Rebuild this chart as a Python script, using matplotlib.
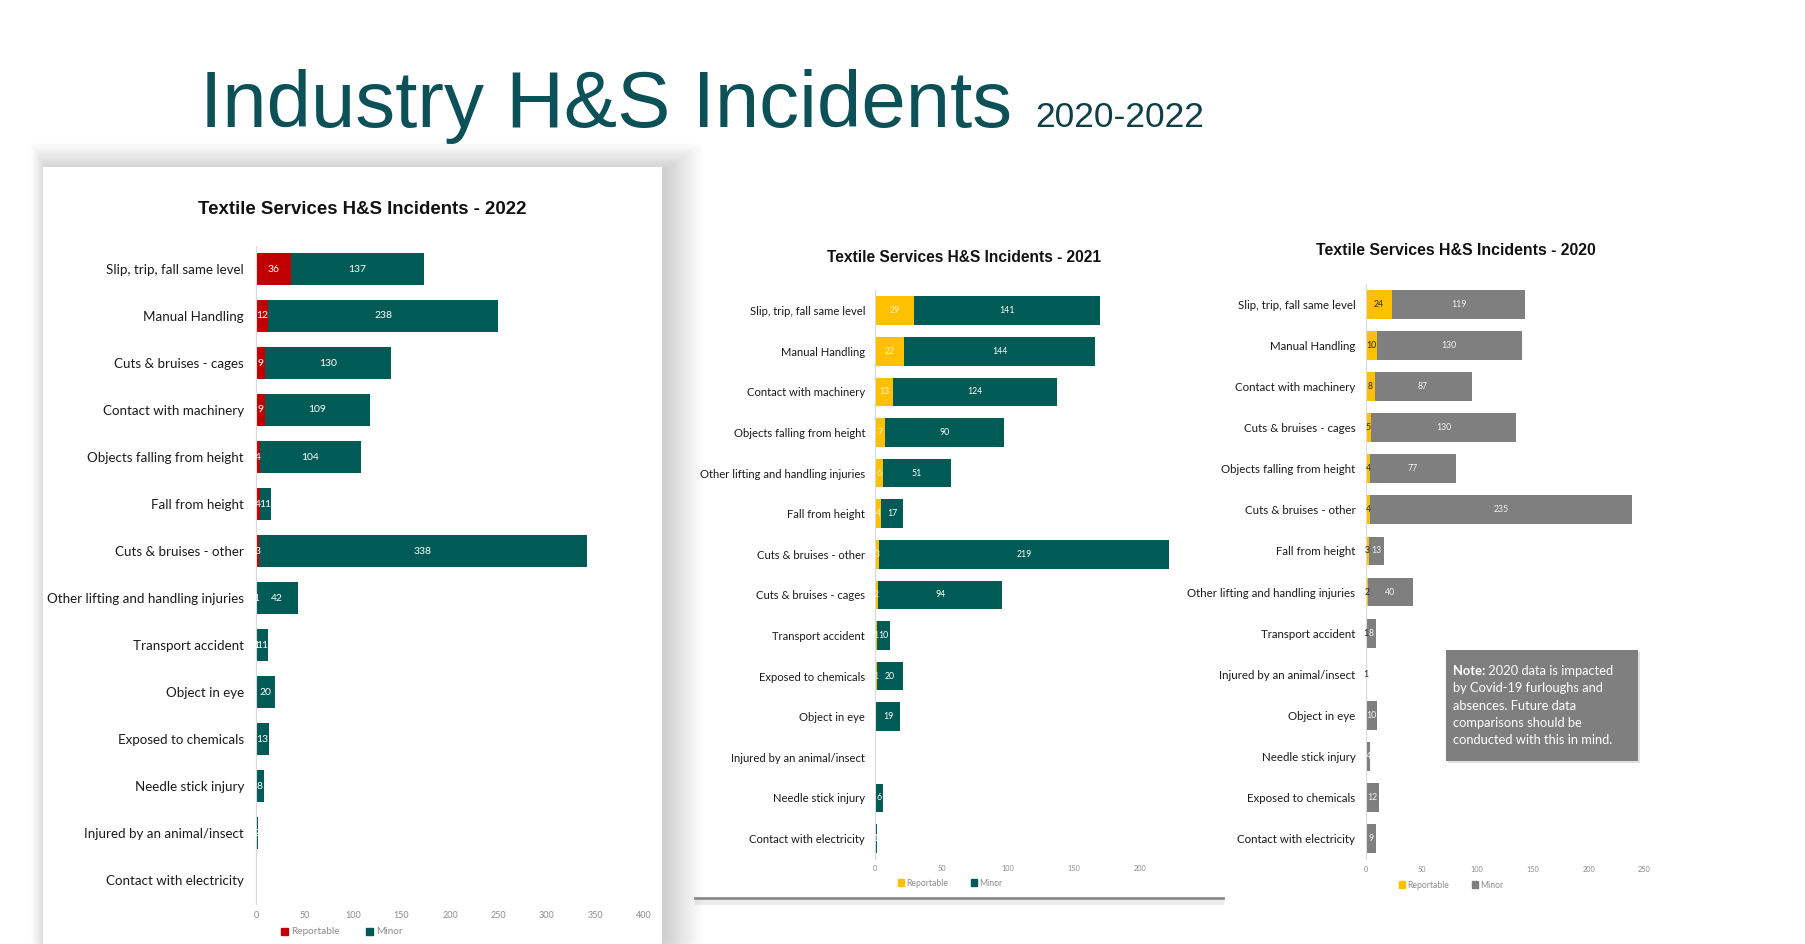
import matplotlib.pyplot as plt
from matplotlib.patches import Rectangle, Patch

plt.rcParams["font.family"] = ["Lato", "DejaVu Sans"]

W, H = 1806, 944

# ---- data ----
cats_2022 = ["Slip, trip, fall same level", "Manual Handling", "Cuts & bruises - cages",
             "Contact with machinery", "Objects falling from height", "Fall from height",
             "Cuts & bruises - other", "Other lifting and handling injuries", "Transport accident",
             "Object in eye", "Exposed to chemicals", "Needle stick injury",
             "Injured by an animal/insect", "Contact with electricity"]
rep_2022 = [36, 12, 9, 9, 4, 4, 3, 1, 1, 0, 0, 0, 0, 0]
minor_2022 = [137, 238, 130, 109, 104, 11, 338, 42, 11, 20, 13, 8, 2, 0]

cats_2021 = ["Slip, trip, fall same level", "Manual Handling", "Contact with machinery",
             "Objects falling from height", "Other lifting and handling injuries", "Fall from height",
             "Cuts & bruises - other", "Cuts & bruises - cages", "Transport accident",
             "Exposed to chemicals", "Object in eye", "Injured by an animal/insect",
             "Needle stick injury", "Contact with electricity"]
rep_2021 = [29, 22, 13, 7, 6, 4, 3, 2, 1, 1, 0, 0, 0, 0]
minor_2021 = [141, 144, 124, 90, 51, 17, 219, 94, 10, 20, 19, 0, 6, 1]

cats_2020 = ["Slip, trip, fall same level", "Manual Handling", "Contact with machinery",
             "Cuts & bruises - cages", "Objects falling from height", "Cuts & bruises - other",
             "Fall from height", "Other lifting and handling injuries", "Transport accident",
             "Injured by an animal/insect", "Object in eye", "Needle stick injury",
             "Exposed to chemicals", "Contact with electricity"]
rep_2020 = [24, 10, 8, 5, 4, 4, 3, 2, 1, 1, 0, 0, 0, 0]
minor_2020 = [119, 130, 87, 130, 77, 235, 13, 40, 8, 0, 10, 4, 12, 9]

note_lines = ["by Covid-19 furloughs and", "absences. Future data",
              "comparisons should be", "conducted with this in mind."]

TEAL = "#005a55"
RED = "#c00000"
YELLOW = "#ffc000"
GREY = "#7f7f7f"
TITLE_COL = "#0b5157"


def px_axes(fig, x0, y0, x1, y1):
    return fig.add_axes([x0 / W, 1 - y1 / H, (x1 - x0) / W, (y1 - y0) / H])


def draw_chart(fig, box, cats, rep, minor, colors, txt_colors, xmax, xticks,
               lab_size, val_size, tick_size, title, title_xy, title_size,
               legend_xy, legend_size, tick_pad):
    ax = px_axes(fig, *box)
    n = len(cats)
    y = list(range(n))
    c1 = ax.barh(y, rep, height=0.7, color=colors[0])
    c2 = ax.barh(y, minor, left=rep, height=0.7, color=colors[1])
    ax.bar_label(c1, labels=[str(v) if v else "" for v in rep], label_type="center",
                 color=txt_colors[0], fontsize=val_size)
    ax.bar_label(c2, labels=[str(v) if v else "" for v in minor], label_type="center",
                 color=txt_colors[1], fontsize=val_size)
    ax.set_xlim(0, xmax)
    ax.set_ylim(n - 0.5, -0.5)
    ax.set_yticks(y)
    ax.set_yticklabels(cats, fontsize=lab_size, color="#1a1a1a")
    ax.set_xticks(xticks)
    ax.tick_params(axis="y", length=0, pad=lab_size * 0.9)
    ax.tick_params(axis="x", length=0, labelsize=tick_size, labelcolor="#8c8c8c", pad=tick_pad)
    for s in ["top", "right", "bottom"]:
        ax.spines[s].set_visible(False)
    ax.spines["left"].set_color("#d9d9d9")
    ax.spines["left"].set_linewidth(0.8)
    ax.patch.set_alpha(0)

    fig.text(title_xy[0] / W, 1 - title_xy[1] / H, title, ha="center", va="center",
             fontsize=title_size, fontweight="bold", family="Liberation Sans", color="#111111")

    handles = [Patch(color=colors[0], label="Reportable"), Patch(color=colors[1], label="Minor")]
    fig.legend(handles=handles, loc="center", ncol=2, frameon=False,
               bbox_to_anchor=(legend_xy[0] / W, 1 - legend_xy[1] / H),
               fontsize=legend_size, labelcolor="#8c8c8c", handlelength=0.7,
               handleheight=0.7, handletextpad=0.3, columnspacing=2.6)
    return ax


fig = plt.figure(figsize=(W / 100, H / 100), dpi=100)
bg = fig.add_axes([0, 0, 1, 1])
bg.set_xlim(0, W)
bg.set_ylim(H, 0)
bg.axis("off")

# slide title
bg.text(200, 127, "Industry H&S Incidents", fontsize=57.5, family="Liberation Sans",
        color=TITLE_COL, va="baseline", ha="left")
bg.text(1035, 127, "2020-2022", fontsize=25.5, family="Liberation Sans",
        color="#0d3f44", va="baseline", ha="left")

# card behind the 2022 chart, with a soft shadow (wider on the right)
for k in range(24):
    pad = k * 1.5
    bg.add_patch(Rectangle((47 - pad * 0.45, 169 - pad * 0.75), 618 + pad * 1.55, 800,
                           color="black", alpha=0.009, lw=0))
bg.add_patch(Rectangle((43, 167), 619, 800, color="white", lw=0))

# bottom edge of the 2021 picture
for k in range(6):
    bg.plot([695, 1223], [899 + k, 899 + k], color="black", alpha=0.05, lw=1)
bg.plot([695, 1223], [897.5, 897.5], color="#8a8a8a", lw=2)

# 2020 note box
bg.add_patch(Rectangle((1448, 652), 192, 111, color="black", alpha=0.12, lw=0))
bg.add_patch(Rectangle((1446, 650), 192, 111, color=GREY, lw=0))
t = bg.text(1453, 671, "Note:", fontsize=9.3, fontweight="bold", color="white",
            va="center", ha="left")
bg.annotate(" 2020 data is impacted", xy=(1, 0), xycoords=t, fontsize=9.3,
            color="white", va="bottom", ha="left")
for i, line in enumerate(note_lines):
    bg.text(1453, 688.3 + i * 17.3, line, fontsize=9.3, color="white", va="center", ha="left")

draw_chart(fig, (256, 245.5, 644, 903.5), cats_2022, rep_2022, minor_2022,
           (RED, TEAL), ("white", "white"), 400, range(0, 401, 50),
           9.6, 7.5, 6.5, "Textile Services H&S Incidents - 2022", (362, 209.5), 13.4,
           (342, 932), 7.2, 5.6)

draw_chart(fig, (875.3, 290.4, 1206.2, 858.8), cats_2021, rep_2021, minor_2021,
           (YELLOW, TEAL), ("#fff2cc", "white"), 250, range(0, 201, 50),
           8.15, 6.3, 5.3, "Textile Services H&S Incidents - 2021", (964, 258), 11.2,
           (950, 883), 6.2, 4.6)

draw_chart(fig, (1365.7, 283.8, 1644.3, 859.2), cats_2020, rep_2020, minor_2020,
           (YELLOW, GREY), ("#262626", "#f2f2f2"), 250, range(0, 251, 50),
           8.3, 6.3, 5.3, "Textile Services H&S Incidents - 2020", (1456, 250), 11.4,
           (1451, 885), 6.2, 4.6)

fig.savefig("out.png", dpi=100)
